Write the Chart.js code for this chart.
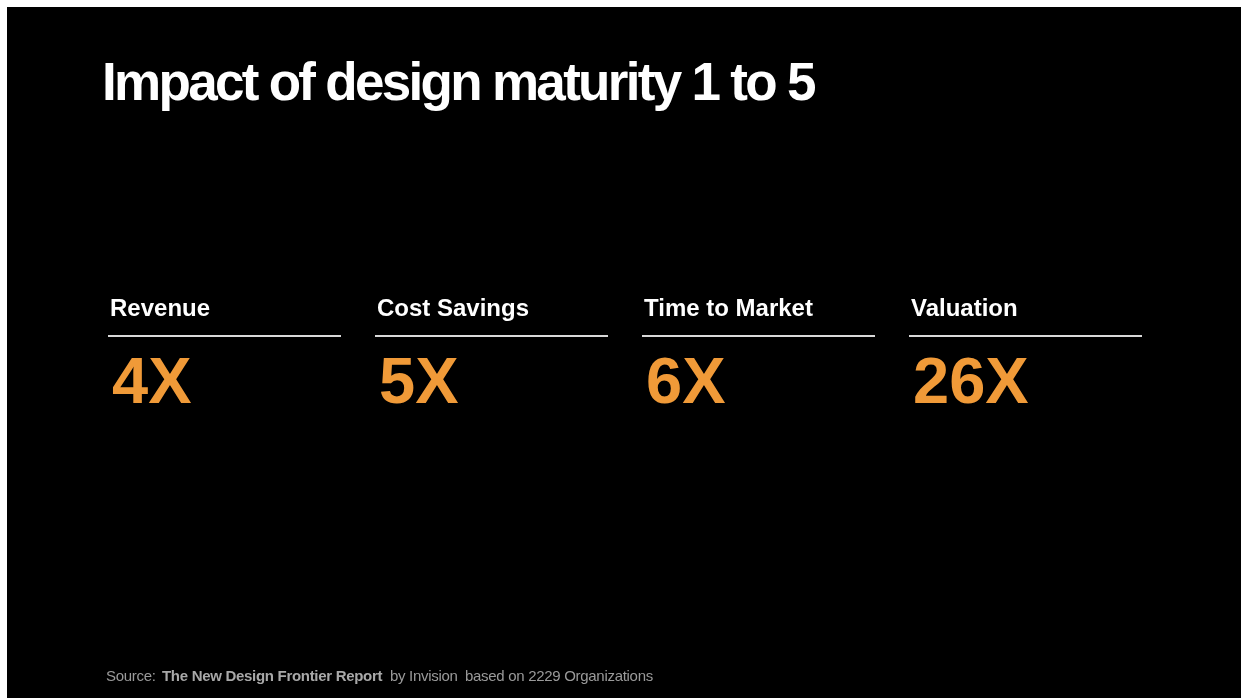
<!DOCTYPE html>
<html>
<head>
<meta charset="utf-8">
<script src="https://cdn.jsdelivr.net/npm/chart.js@4/dist/chart.umd.min.js"></script>
<style>
  html, body { margin: 0; padding: 0; background: #ffffff; width: 1241px; height: 698px; overflow: hidden; }
  #slide { position: absolute; left: 7px; top: 7px; width: 1234px; height: 691px; background: #000000; }
  #chart { position: absolute; left: 0; top: 0; }
  #title { position: absolute; left: 95px; top: 48px; margin: 0; font-family: "Liberation Sans", Arial, sans-serif;
           font-weight: 700; font-size: 53px; line-height: 53px; letter-spacing: -2.7px; color: #ffffff; white-space: nowrap; }
  .foot { position: absolute; top: 661px; font-family: "Liberation Sans", Arial, sans-serif; font-size: 15px; line-height: 15px;
          color: #9a9a9a; white-space: nowrap; letter-spacing: -0.3px; }
  .foot b { color: #a8a8a8; }
</style>
</head>
<body>
<div id="slide">
  <canvas id="chart" width="1234" height="691"></canvas>
  <h1 id="title">Impact of design maturity 1 to 5</h1>
  <div class="foot" style="left:99px">Source:</div>
  <div class="foot" style="left:155px"><b>The New Design Frontier Report</b></div>
  <div class="foot" style="left:383px">by Invision</div>
  <div class="foot" style="left:458px">based on 2229 Organizations</div>
</div>
<script>
// ---- data ----
const categories = ["Revenue", "Cost Savings", "Time to Market", "Valuation"];
const multipliers = [4, 5, 6, 26];
const valueSuffix = "X";

// ---- styles ----
const ORANGE = "#F09A38";
const LABEL_FONT = 'bold 24px "Liberation Sans", Arial, sans-serif';
const VALUE_FONT = 'bold 65px "Liberation Sans", Arial, sans-serif';

const kpiPlugin = {
  id: "kpiCards",
  afterDatasetsDraw(chart) {
    const ctx = chart.ctx;
    const meta = chart.getDatasetMeta(0);
    const xs = chart.scales.x;
    const step = xs.getPixelForValue(1) - xs.getPixelForValue(0);
    const lineW = 233;
    ctx.save();
    meta.data.forEach((el, i) => {
      const left = el.x - step / 2;
      // label
      ctx.font = LABEL_FONT;
      ctx.fillStyle = "#ffffff";
      ctx.textAlign = "left";
      ctx.textBaseline = "alphabetic";
      ctx.fillText(categories[i], left + 2, 309);
      // rule
      ctx.fillStyle = "#d8d8d8";
      ctx.fillRect(left, 328, lineW, 2);
      // value
      ctx.font = VALUE_FONT;
      ctx.fillStyle = ORANGE;
      ctx.fillText(multipliers[i] + valueSuffix, left + 4, 396);
    });
    ctx.restore();
  }
};

new Chart(document.getElementById("chart"), {
  type: "bar",
  data: {
    labels: categories,
    datasets: [{
      data: multipliers,
      backgroundColor: "rgba(0,0,0,0)",
      borderWidth: 0
    }]
  },
  options: {
    responsive: false,
    animation: false,
    layout: { padding: { left: 101, right: 65, top: 0, bottom: 0 } },
    plugins: { legend: { display: false }, tooltip: { enabled: false }, title: { display: false } },
    scales: {
      x: { display: false, offset: true },
      y: { display: false, min: 0, max: 30 }
    }
  },
  plugins: [kpiPlugin]
});
</script>
</body>
</html>
